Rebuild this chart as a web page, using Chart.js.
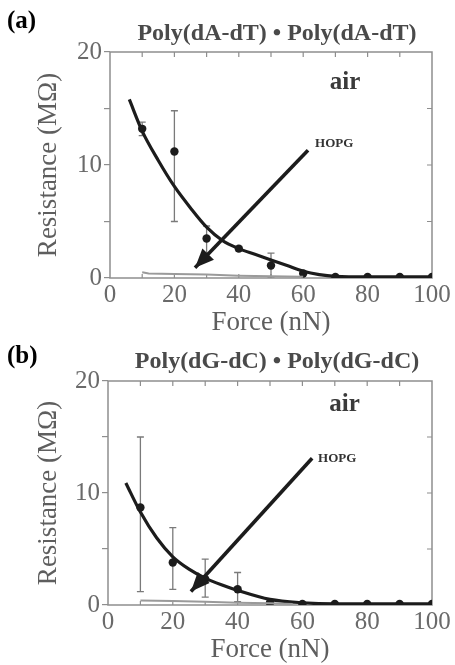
<!DOCTYPE html>
<html>
<head>
<meta charset="utf-8">
<script src="https://cdn.jsdelivr.net/npm/chart.js@4/dist/chart.umd.min.js"></script>
<style>
  html, body { margin: 0; padding: 0; background: #fff; width: 455px; height: 665px; overflow: hidden; }
  canvas { position: absolute; left: 0; }
  #panelA { top: 0; }
  #panelB { top: 332px; }
</style>
</head>
<body>
<canvas id="panelA" width="455" height="345"></canvas>
<canvas id="panelB" width="455" height="333"></canvas>
<script>
// ---- Panel (a): Poly(dA-dT)·Poly(dA-dT) in air ----
const forceA    = [10, 20, 30, 40, 50, 60, 70, 80, 90, 100];
const resA      = [13.2, 11.2, 3.5, 2.6, 1.1, 0.4, 0.1, 0.1, 0.1, 0.1];
const errHighA  = [13.8, 14.8, 4.6, 2.8, 2.2, 0.4, 0.1, 0.1, 0.1, 0.1];
const errLowA   = [12.6, 5.0, 2.2, 2.4, 0.1, 0.4, 0.1, 0.1, 0.1, 0.1];
const fitForceA = [6, 10, 15, 20, 25, 30, 35, 40, 45, 50, 55, 60, 65, 70, 80, 90, 100];
const fitResA   = [15.8, 13.0, 10.4, 8.1, 6.2, 4.5, 3.3, 2.6, 2.1, 1.6, 1.1, 0.6, 0.3, 0.15, 0.1, 0.1, 0.1];
const hopgForceA = [10, 12, 20, 30, 40, 50, 60];
const hopgResA   = [0.5, 0.4, 0.35, 0.3, 0.2, 0.15, 0.1];
const arrowForceA = [61.5, 26.4];
const arrowResA   = [11.3, 0.9];

// ---- Panel (b): Poly(dG-dC)·Poly(dG-dC) in air ----
const forceB    = [10, 20, 30, 40, 50, 60, 70, 80, 90, 100];
const resB      = [8.7, 3.8, 2.3, 1.4, 0.2, 0.1, 0.1, 0.1, 0.1, 0.1];
const errHighB  = [15.0, 6.9, 4.1, 2.9, 0.2, 0.1, 0.1, 0.1, 0.1, 0.1];
const errLowB   = [1.2, 1.4, 0.7, 0.3, 0.2, 0.1, 0.1, 0.1, 0.1, 0.1];
const fitForceB = [5.5, 10, 15, 20, 25, 30, 35, 40, 50, 60, 70, 80, 90, 100];
const fitResB   = [10.9, 8.3, 6.0, 4.3, 3.2, 2.4, 1.8, 1.3, 0.5, 0.2, 0.1, 0.1, 0.1, 0.1];
const hopgForceB = [10, 20, 30, 40, 50, 57];
const hopgResB   = [0.4, 0.35, 0.3, 0.2, 0.15, 0.1];
const arrowForceB = [63, 25.6];
const arrowResB   = [13.1, 1.2];

const xTicks = [0, 20, 40, 60, 80, 100];
const yTickLabels = [0, 10, 20];

const SERIF = '"Liberation Serif", "Times New Roman", serif';
const pairs = (xs, ys) => xs.map((v, i) => ({ x: v, y: ys[i] }));

// frame, inward ticks, error bars, arrowhead and annotation texts
const panelDecor = {
  id: 'panelDecor',
  beforeDatasetsDraw(chart, args, o) {
    const { ctx, chartArea: a, scales: { x, y } } = chart;
    ctx.save();
    ctx.strokeStyle = '#8e8e8e';
    ctx.lineWidth = 1.5;
    ctx.strokeRect(a.left, a.top, a.width, a.height);
    ctx.lineWidth = 1.2;
    ctx.beginPath();
    for (let v = 10; v < 100; v += 10) {
      const px = x.getPixelForValue(v);
      ctx.moveTo(px, a.top); ctx.lineTo(px, a.top + 5);
      ctx.moveTo(px, a.bottom); ctx.lineTo(px, a.bottom - 4);
    }
    for (let v = 5; v < 20; v += 5) {
      const py = y.getPixelForValue(v);
      ctx.moveTo(a.right, py); ctx.lineTo(a.right - 5, py);
    }
    ctx.stroke();

    // error bars
    ctx.strokeStyle = '#7a7a7a';
    ctx.lineWidth = 1.3;
    o.errX.forEach((fx, i) => {
      const hi = o.errHi[i], lo = o.errLo[i];
      if (hi === lo) return;
      const px = x.getPixelForValue(fx);
      const pHi = y.getPixelForValue(hi), pLo = y.getPixelForValue(lo);
      ctx.beginPath();
      ctx.moveTo(px, pHi); ctx.lineTo(px, pLo);
      ctx.moveTo(px - 3.5, pHi); ctx.lineTo(px + 3.5, pHi);
      ctx.moveTo(px - 3.5, pLo); ctx.lineTo(px + 3.5, pLo);
      ctx.stroke();
    });
    ctx.restore();
  },
  afterDatasetsDraw(chart, args, o) {
    const { ctx } = chart;
    const meta = chart.getDatasetMeta(o.arrowIndex);
    const p0 = meta.data[0], p1 = meta.data[1];
    const ang = Math.atan2(p1.y - p0.y, p1.x - p0.x);
    const L = 19, W = 8;
    ctx.save();
    ctx.fillStyle = '#1c1c1c';
    ctx.beginPath();
    ctx.moveTo(p1.x, p1.y);
    ctx.lineTo(p1.x - L * Math.cos(ang) + W * Math.sin(ang), p1.y - L * Math.sin(ang) - W * Math.cos(ang));
    ctx.lineTo(p1.x - L * Math.cos(ang) - W * Math.sin(ang), p1.y - L * Math.sin(ang) + W * Math.cos(ang));
    ctx.closePath();
    ctx.fill();

    // HOPG tag at the tail of the arrow
    ctx.fillStyle = '#333';
    ctx.font = 'bold 13px ' + SERIF;
    ctx.textAlign = 'left';
    ctx.textBaseline = 'middle';
    ctx.fillText('HOPG', p0.x + o.hopgDx, p0.y + o.hopgDy);
    ctx.restore();
  },
  afterDraw(chart, args, o) {
    const { ctx, scales: { x, y } } = chart;
    ctx.save();
    ctx.textBaseline = 'middle';
    ctx.fillStyle = '#000';
    ctx.font = 'bold 25px ' + SERIF;
    ctx.textAlign = 'left';
    ctx.fillText(o.panel, 7, o.panelY);
    ctx.fillStyle = '#4a4a4a';
    ctx.font = 'bold 24px ' + SERIF;
    ctx.textAlign = 'center';
    ctx.fillText(o.title, 277, o.titleY);
    ctx.fillStyle = '#3a3a3a';
    ctx.font = 'bold 25px ' + SERIF;
    ctx.fillText('air', x.getPixelForValue(73), y.getPixelForValue(o.airY));
    ctx.restore();
  }
};

function makePanel(id, cfg) {
  return new Chart(document.getElementById(id), {
    type: 'scatter',
    data: {
      datasets: [
        { data: pairs(cfg.hopgForce, cfg.hopgRes), showLine: true, borderColor: '#9a9a9a', borderWidth: 2,
          pointRadius: 0, tension: 0 },
        { data: pairs(cfg.fitForce, cfg.fitRes), showLine: true, borderColor: '#1c1c1c', borderWidth: 3.2,
          pointRadius: 0, cubicInterpolationMode: 'monotone' },
        { data: pairs(cfg.force, cfg.res), showLine: false, backgroundColor: '#1c1c1c', borderColor: '#1c1c1c',
          pointRadius: 4.2, pointBorderWidth: 0 },
        { data: pairs(cfg.arrowForce, cfg.arrowRes), showLine: true, borderColor: '#1c1c1c', borderWidth: 3.6,
          pointRadius: 0, tension: 0 }
      ]
    },
    options: {
      responsive: false,
      animation: false,
      devicePixelRatio: 1,
      layout: { padding: { top: cfg.top, right: 23, left: 0, bottom: 0 } },
      plugins: {
        legend: { display: false },
        tooltip: { enabled: false },
        panelDecor: {
          errX: cfg.force, errHi: cfg.errHigh, errLo: cfg.errLow, arrowIndex: 3,
          hopgDx: cfg.hopgDx, hopgDy: cfg.hopgDy,
          panel: cfg.panel, panelY: cfg.panelY, title: cfg.title, titleY: cfg.titleY, airY: cfg.airY
        }
      },
      scales: {
        x: {
          type: 'linear', min: 0, max: 100,
          afterFit: s => { s.height = cfg.xBox; },
          afterBuildTicks: s => { s.ticks = xTicks.map(v => ({ value: v })); },
          grid: { display: false, drawTicks: false },
          border: { display: false },
          ticks: { padding: 2, color: '#6a6a6a', font: { family: SERIF, size: 25 }, maxRotation: 0 },
          title: { display: true, text: 'Force (nN)', color: '#5e5e5e',
                   font: { family: SERIF, size: 27, lineHeight: 1.1 }, padding: { top: 0, bottom: cfg.xTitlePad } }
        },
        y: {
          type: 'linear', min: 0, max: 20,
          afterFit: s => { s.width = cfg.left; },
          ticks: { stepSize: 5, padding: 2, color: '#6a6a6a', font: { family: SERIF, size: 25 },
                   callback: v => yTickLabels.includes(v) ? String(v) : '' },
          grid: { display: true, drawOnChartArea: false, drawTicks: true, tickLength: 6, color: '#8e8e8e', lineWidth: 1.2 },
          border: { display: false },
          title: { display: true, text: 'Resistance (MΩ)', color: '#5e5e5e',
                   font: { family: SERIF, size: 27, lineHeight: 1.1 }, padding: { top: 34, bottom: 0 } }
        }
      }
    },
    plugins: [panelDecor]
  });
}

makePanel('panelA', {
  force: forceA, res: resA, errHigh: errHighA, errLow: errLowA,
  fitForce: fitForceA, fitRes: fitResA, hopgForce: hopgForceA, hopgRes: hopgResA,
  arrowForce: arrowForceA, arrowRes: arrowResA,
  top: 52, left: 110, xBox: 67, xTitlePad: 7,
  hopgDx: 7, hopgDy: -7,
  panel: '(a)', panelY: 22, title: 'Poly(dA-dT) • Poly(dA-dT)', titleY: 34, airY: 17.3
});

makePanel('panelB', {
  force: forceB, res: resB, errHigh: errHighB, errLow: errLowB,
  fitForce: fitForceB, fitRes: fitResB, hopgForce: hopgForceB, hopgRes: hopgResB,
  arrowForce: arrowForceB, arrowRes: arrowResB,
  top: 49, left: 108, xBox: 60, xTitlePad: 0,
  hopgDx: 6, hopgDy: 0,
  panel: '(b)', panelY: 25, title: 'Poly(dG-dC) • Poly(dG-dC)', titleY: 30, airY: 17.9
});
</script>
</body>
</html>
